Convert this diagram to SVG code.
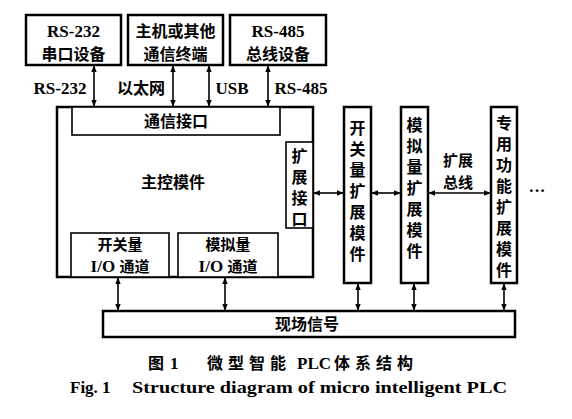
<svg xmlns="http://www.w3.org/2000/svg" width="572" height="419" viewBox="0 0 572 419">
<defs>
<marker id="ah" viewBox="0 0 10 10" refX="9" refY="5" markerWidth="7" markerHeight="7" orient="auto-start-reverse" markerUnits="userSpaceOnUse">
<path d="M0,1 L10,5 L0,9 z" fill="#000"/>
</marker>
<style>
.box{fill:#fff;stroke:#000;stroke-width:2.5}
.ibox{fill:#fff;stroke:#000;stroke-width:1.6}
.t{font-family:"Liberation Serif","Noto Sans CJK SC",serif;font-size:17px;font-weight:bold;fill:#000;text-anchor:middle}
.c{font-family:"Noto Sans CJK SC","Liberation Serif",sans-serif;font-size:16px;font-weight:bold;fill:#000;text-anchor:middle}
.sm{font-size:15px}
.s{text-anchor:start}
.v{writing-mode:vertical-rl;text-anchor:start;letter-spacing:5px}
.conn{stroke:#000;stroke-width:1.6;fill:none;marker-start:url(#ah);marker-end:url(#ah)}
</style>
</defs>
<rect width="572" height="419" fill="#fff"/>

<g id="rs232dev">
<rect class="box" x="26" y="15" width="95" height="50"/>
<text class="t" x="73.5" y="36.5">RS-232</text>
<text class="c" x="73.5" y="59.5">串口设备</text>
</g>
<g id="host">
<rect class="box" x="128" y="15" width="95" height="50"/>
<text class="c" x="175.5" y="37">主机或其他</text>
<text class="c" x="175.5" y="59.5">通信终端</text>
</g>
<g id="rs485dev">
<rect class="box" x="230" y="15" width="96" height="50"/>
<text class="t" x="278" y="36.5">RS-485</text>
<text class="c" x="278" y="59.5">总线设备</text>
</g>

<g id="main">
<rect class="box" x="57" y="107" width="256" height="170"/>
<text class="c" x="173" y="188">主控模件</text>
</g>
<g id="comm">
<rect class="ibox" x="72" y="107" width="208" height="28"/>
<text class="c" x="176" y="127">通信接口</text>
</g>
<g id="expport">
<rect class="ibox" x="286" y="142" width="27" height="86"/>
<text class="c v" x="299.5" y="148">扩展接口</text>
</g>
<g id="dio">
<rect class="ibox" x="71" y="233" width="98" height="44"/>
<text class="c sm" x="120" y="250">开关量</text>
<text class="t" x="120" y="272">I/O <tspan font-family="Noto Sans CJK SC" font-size="15">通道</tspan></text>
</g>
<g id="aio">
<rect class="ibox" x="178" y="233" width="100" height="44"/>
<text class="c sm" x="228" y="250">模拟量</text>
<text class="t" x="228" y="272">I/O <tspan font-family="Noto Sans CJK SC" font-size="15">通道</tspan></text>
</g>

<g id="dmod">
<rect class="box" x="344" y="107" width="27" height="176"/>
<text class="c v" x="357.5" y="120">开关量扩展模件</text>
</g>
<g id="amod">
<rect class="box" x="401" y="107" width="27" height="176"/>
<text class="c v" x="414.5" y="117">模拟量扩展模件</text>
</g>
<g id="smod">
<rect class="box" x="491" y="107" width="26" height="176"/>
<text class="c v" x="504" y="115">专用功能扩展模件</text>
</g>

<g id="field">
<rect class="box" x="103" y="311" width="412" height="26"/>
<text class="c" x="307" y="330">现场信号</text>
</g>

<g id="connectors">
<line class="conn" x1="94" y1="66" x2="94" y2="106"/>
<line class="conn" x1="173" y1="66" x2="173" y2="106"/>
<line class="conn" x1="209" y1="66" x2="209" y2="106"/>
<line class="conn" x1="268" y1="66" x2="268" y2="106"/>
<line class="conn" x1="314" y1="193" x2="343" y2="193"/>
<line class="conn" x1="372" y1="193" x2="400" y2="193"/>
<line class="conn" x1="429" y1="193" x2="490" y2="193"/>
<line class="conn" x1="118" y1="278" x2="118" y2="310"/>
<line class="conn" x1="225" y1="278" x2="225" y2="310"/>
<line class="conn" x1="358" y1="284" x2="358" y2="310"/>
<line class="conn" x1="414" y1="284" x2="414" y2="310"/>
<line class="conn" x1="504" y1="284" x2="504" y2="310"/>
</g>

<g id="labels">
<text class="t" x="60" y="94">RS-232</text>
<text class="c" x="141" y="94">以太网</text>
<text class="t" x="232" y="94">USB</text>
<text class="t" x="301" y="94">RS-485</text>
<text class="c sm" x="458" y="166">扩展</text>
<text class="c sm" x="458" y="188">总线</text>
<text class="t" x="537" y="196">···</text>
</g>

<g id="caption">
<text class="c s" x="148" y="369" font-size="17">图</text>
<text class="t s" x="170" y="369" font-size="18">1</text>
<text class="c s" x="207" y="369" font-size="17" letter-spacing="5">微型智能</text>
<text class="t s" x="297" y="369" font-size="18">PLC</text>
<text class="c s" x="334" y="369" font-size="17" letter-spacing="5">体系结构</text>
<text class="t s" x="70" y="393" font-size="19">Fig. 1</text>
<text class="t s" x="132" y="393" font-size="19" textLength="375" lengthAdjust="spacingAndGlyphs">Structure diagram of micro intelligent PLC</text>
</g>
</svg>
